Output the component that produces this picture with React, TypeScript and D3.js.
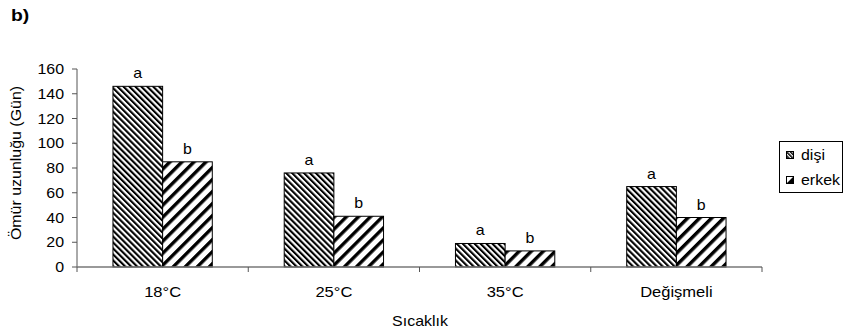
import React from "react";
import * as d3 from "d3";

const categories = ["18°C", "25°C", "35°C", "Değişmeli"];
const series = ["dişi", "erkek"];
const disiValues = [146, 76, 19, 65];
const erkekValues = [85, 41, 13, 40];
const disiLetters = ["a", "a", "a", "a"];
const erkekLetters = ["b", "b", "b", "b"];
const yTicks = [0, 20, 40, 60, 80, 100, 120, 140, 160];

const W = 844;
const H = 336;
const left = 77;
const right = 762;
const top = 69;
const bottom = 267;
const font = "'Liberation Sans', Arial, sans-serif";
const SX = 1.14;

function T({ x, y, anchor = "start", size = 14, weight = "normal", rotate = 0, children }: any) {
  return (
    <text
      transform={`translate(${x},${y}) rotate(${rotate}) scale(${SX},1)`}
      textAnchor={anchor}
      fontFamily={font}
      fontSize={size}
      fontWeight={weight}
      fill="#000"
    >
      {children}
    </text>
  );
}

export default function App() {
  const x0 = d3.scaleBand<string>().domain(categories).range([left, right]).paddingInner(0).paddingOuter(0);
  const y = d3.scaleLinear().domain([0, 160]).range([bottom, top]);
  const bw = x0.bandwidth();
  const gap = bw * 0.21;
  const x1 = d3.scaleBand<string>().domain(series).range([gap, bw - gap]).padding(0);
  const data = [disiValues, erkekValues];
  const letters = [disiLetters, erkekLetters];
  const fills = ["url(#pDisi)", "url(#pErkek)"];

  return (
    <svg width={W} height={H} style={{ position: "absolute", left: 0, top: 0, background: "#fff" }}>
      <defs>
        <pattern id="pDisi" patternUnits="userSpaceOnUse" width="4.2" height="4.2" patternTransform="rotate(-45)">
          <rect width="4.2" height="4.2" fill="#fff" />
          <rect width="2.1" height="4.2" fill="#000" />
        </pattern>
        <pattern id="pErkek" patternUnits="userSpaceOnUse" width="8.5" height="8.5" patternTransform="rotate(45)">
          <rect width="8.5" height="8.5" fill="#fff" />
          <rect width="3.4" height="8.5" fill="#000" />
        </pattern>
        <pattern id="pDisiL" patternUnits="userSpaceOnUse" width="2.8" height="2.8" patternTransform="rotate(-45)">
          <rect width="2.8" height="2.8" fill="#fff" />
          <rect width="1.5" height="2.8" fill="#000" />
        </pattern>
      </defs>
      <rect width={W} height={H} fill="#fff" />
      <T x={11} y={21} size={17} weight="bold">b)</T>

      {/* y axis */}
      <line x1={left} x2={left} y1={top} y2={bottom} stroke="#555" strokeWidth={1} />
      {yTicks.map((t) => (
        <g key={t}>
          <line x1={left - 5} x2={left} y1={y(t)} y2={y(t)} stroke="#555" />
          <T x={64} y={y(t) + 5} anchor="end">{t}</T>
        </g>
      ))}
      <T x={21} y={163} anchor="middle" rotate={-90}>Ömür uzunluğu (Gün)</T>

      {/* bars */}
      {categories.map((c, i) => (
        <g key={c} transform={`translate(${x0(c)},0)`}>
          {series.map((s, k) => {
            const v = data[k][i];
            const bx = x1(s)!;
            return (
              <g key={s}>
                <rect x={bx} y={y(v)} width={x1.bandwidth()} height={bottom - y(v)} fill={fills[k]} stroke="#000" strokeWidth={1} />
                <T x={bx + x1.bandwidth() / 2} y={y(v) - 8} anchor="middle">{letters[k][i]}</T>
              </g>
            );
          })}
        </g>
      ))}

      {/* x axis */}
      <line x1={left} x2={right} y1={bottom} y2={bottom} stroke="#777" strokeWidth={1.5} />
      {[...categories.map((c) => x0(c)!), right].map((tx, i) => (
        <line key={i} x1={tx} x2={tx} y1={bottom} y2={bottom + 5} stroke="#555" />
      ))}
      {categories.map((c) => (
        <T key={c} x={x0(c)! + bw / 2} y={297} anchor="middle" size={14.5}>{c}</T>
      ))}
      <T x={420} y={326} anchor="middle">Sıcaklık</T>

      {/* legend */}
      <rect x={779.5} y={141.5} width={63} height={51} fill="#fff" stroke="#000" strokeWidth={1} />
      <rect x={786.5} y={151.5} width={7} height={7} fill="url(#pDisiL)" stroke="#000" />
      <T x={801} y={160}>{series[0]}</T>
      <rect x={786.5} y={176.5} width={7} height={7} fill="#fff" stroke="#000" />
      <path d="M793.5,176.5 L793.5,183.5 L786.5,183.5 Z" fill="#000" />
      <T x={801} y={185}>{series[1]}</T>
    </svg>
  );
}
